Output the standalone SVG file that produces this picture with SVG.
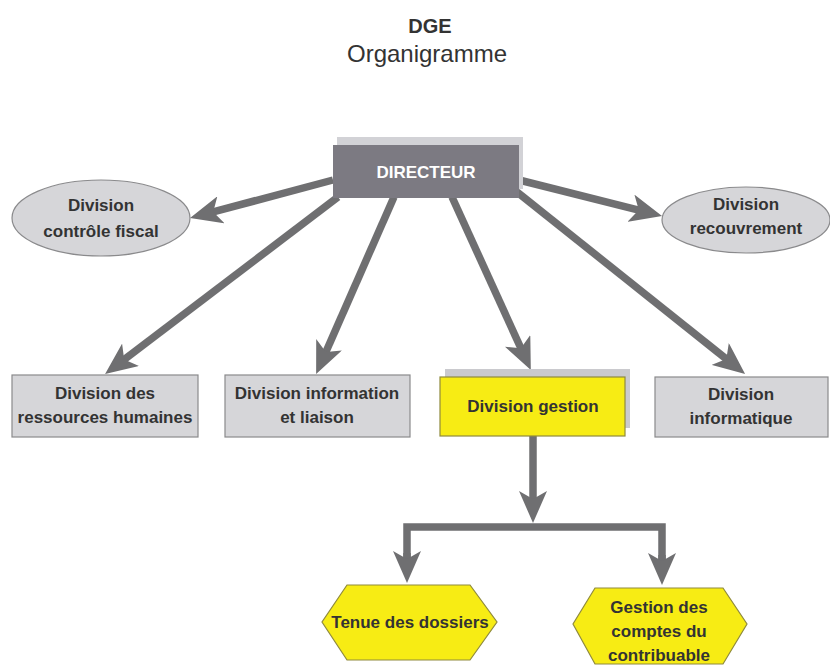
<svg xmlns="http://www.w3.org/2000/svg" width="830" height="667" viewBox="0 0 830 667">
<defs>
<marker id="ah" viewBox="0 0 32 28" refX="10" refY="14" markerWidth="32" markerHeight="28" markerUnits="userSpaceOnUse" orient="auto">
<path d="M0,0 L32,14 L0,28 L8,14 z" fill="#6f6f71"/>
</marker>
<style>
.t{font-family:"Liberation Sans",Arial,sans-serif;font-weight:bold;font-size:17px;fill:#333;text-anchor:middle}
.g{fill:#d6d6d9;stroke:#8a8a8c;stroke-width:1.2}
.y{fill:#f7ec14;stroke:#8f8a3c;stroke-width:1.2}
.c{fill:none;stroke:#6f6f71;stroke-width:7.5}
.a{marker-end:url(#ah)}
</style>
</defs>
<rect width="830" height="667" fill="#fff"/>
<g id="title">
<text x="430" y="33" style="font-family:'Liberation Sans',Arial,sans-serif;font-weight:bold;font-size:20px;fill:#333;text-anchor:middle">DGE</text>
<text x="427" y="62" style="font-family:'Liberation Sans',Arial,sans-serif;font-size:24px;fill:#333;text-anchor:middle">Organigramme</text>
</g>
<g id="connectors">
<line class="c a" x1="333" y1="180" x2="211.3" y2="212.4"/>
<line class="c a" x1="519" y1="180" x2="640.7" y2="210.6"/>
<line class="c a" x1="338" y1="197" x2="122.6" y2="360.8"/>
<line class="c a" x1="394" y1="197" x2="325.0" y2="353.9"/>
<line class="c a" x1="452" y1="197" x2="521.7" y2="350.0"/>
<line class="c a" x1="517" y1="192" x2="727.9" y2="360.2"/>
<line class="c a" x1="533" y1="436" x2="533" y2="501"/>
<path class="c" d="M407,561 V527 H662 V563" stroke-linejoin="miter"/>
<line class="c a" x1="407" y1="553" x2="407" y2="561"/>
<line class="c a" x1="662" y1="555" x2="662" y2="563"/>
</g>
<g id="directeur">
<rect x="337" y="137" width="186" height="52" fill="#d2d2d6"/>
<rect x="333" y="145" width="186" height="53" fill="#7c7a82"/>
<text class="t" x="426" y="178" style="fill:#fff">DIRECTEUR</text>
</g>
<g id="controle-fiscal">
<ellipse class="g" cx="101" cy="218" rx="89" ry="38"/>
<text class="t" x="101" y="211">Division</text>
<text class="t" x="101" y="237">contrôle fiscal</text>
</g>
<g id="recouvrement">
<ellipse class="g" cx="746" cy="220" rx="84" ry="33"/>
<text class="t" x="746" y="210">Division</text>
<text class="t" x="746" y="234">recouvrement</text>
</g>
<g id="ressources-humaines">
<rect class="g" x="12" y="375" width="186" height="62"/>
<text class="t" x="105" y="399">Division des</text>
<text class="t" x="105" y="423">ressources humaines</text>
</g>
<g id="information-liaison">
<rect class="g" x="225" y="375" width="185" height="62"/>
<text class="t" x="317" y="399">Division information</text>
<text class="t" x="317" y="423">et liaison</text>
</g>
<g id="gestion">
<rect x="445" y="369" width="185" height="59" fill="#cacace"/>
<rect class="y" x="440" y="377" width="185" height="59"/>
<text class="t" x="533" y="412">Division gestion</text>
</g>
<g id="informatique">
<rect class="g" x="655" y="377" width="173" height="60"/>
<text class="t" x="741" y="400">Division</text>
<text class="t" x="741" y="424">informatique</text>
</g>
<g id="tenue-dossiers">
<polygon class="y" points="347,585 470,585 497,622 470,660 347,660 322,622"/>
<text class="t" x="410" y="628">Tenue des dossiers</text>
</g>
<g id="gestion-comptes">
<polygon class="y" points="595,588 723,588 747,624 723,664 595,664 573,624"/>
<text class="t" x="659" y="613">Gestion des</text>
<text class="t" x="659" y="637">comptes du</text>
<text class="t" x="659" y="661">contribuable</text>
</g>
</svg>
